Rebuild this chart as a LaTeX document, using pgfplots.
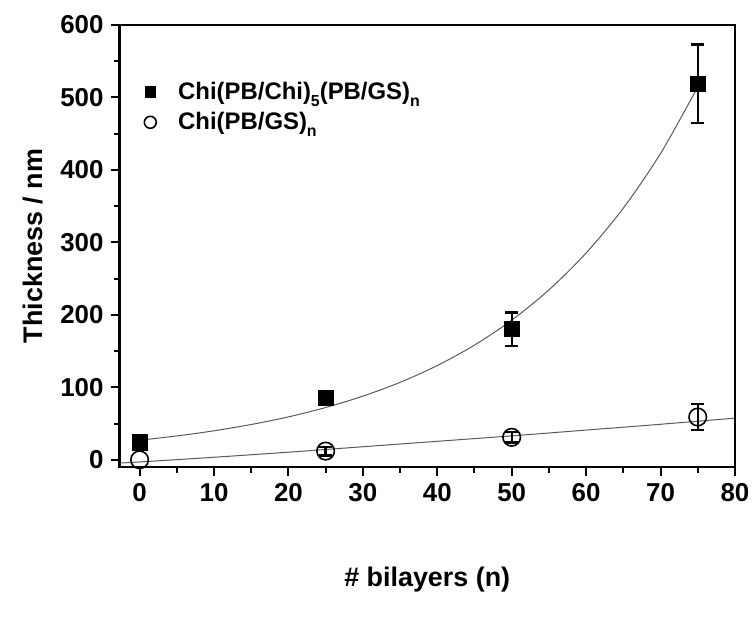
\documentclass[border=0pt]{standalone}
\usepackage{fontspec}
\setmainfont{Liberation Sans}
\usepackage{pgfplots}
\pgfplotsset{compat=1.18}
\newcommand{\sub}[1]{\raisebox{-0.55ex}{\fontsize{8}{8}\selectfont #1}}
\begin{document}
\begin{tikzpicture}
\begin{axis}[
  name=ax,
  scale only axis,
  width=309pt, height=222pt,
  xmin=-2.7, xmax=80, ymin=-10, ymax=600,
  xtick={0,10,...,80}, ytick={0,100,...,600},
  minor x tick num=1, minor y tick num=1,
  xtick pos=bottom, ytick pos=left,
  tick align=outside,
  major tick length=4.5pt, minor tick length=2.8pt,
  every tick/.style={black, line width=1pt},
  axis line style={line width=1.2pt},
  /pgf/number format/assume math mode=true,
  tick label style={font=\fontsize{13}{15}\selectfont\bfseries},
  label style={font=\fontsize{13.5}{16}\selectfont\bfseries},
  xlabel={\# bilayers (n)},
  ylabel={Thickness / nm},
  xlabel style={yshift=-26pt},
  ylabel style={yshift=2pt},
  legend style={draw=none, fill=none, at={(0.03,0.89)}, anchor=north west,
    font=\fontsize{12}{14}\selectfont\bfseries, row sep=1pt,
    legend cell align=left},
]
% fit curves
\addplot[gray!70!black, line width=0.5pt, smooth, forget plot] coordinates {
 (0,27) (5,32.9) (10,40.0) (15,48.7) (20,59.2) (25,72.1) (30,87.8) (35,106.8)
 (40,130.0) (45,158.2) (50,192.6) (55,234.4) (60,285.3) (65,347.2) (70,422.6) (75,514.3)};
\addplot[gray!70!black, line width=0.5pt, smooth, forget plot] coordinates {
 (-2.7,-4.5) (0,-3) (10,3.5) (20,10.5) (30,18) (40,25.5) (50,33) (60,41) (70,49) (80,57.5)};
% data
\addplot[only marks, mark=square*, mark size=3.8pt, black,
  legend image post style={mark size=2.7pt},
  error bars/.cd, y dir=both, y explicit,
  error bar style={line width=1.2pt},
  error mark options={rotate=90, mark size=3.2pt, line width=1.2pt}]
  coordinates {
  (0,24) +- (0,3)
  (25,85) +- (0,4)
  (50,180) +- (0,23)
  (75,519) +- (0,54)
};
\addlegendentry{\hspace*{9pt}Chi(PB/Chi)\sub{5}(PB/GS)\sub{n}}
\addplot[only marks, mark=o, mark size=4.4pt, black, mark options={fill=white, line width=0.8pt},
  legend image post style={mark size=3pt, line width=0.7pt},
  error bars/.cd, y dir=both, y explicit,
  error bar style={line width=1.2pt},
  error mark options={rotate=90, mark size=3.2pt, line width=1.2pt}]
  coordinates {
  (25,12) +- (0,6)
  (50,31) +- (0,7)
  (75,59) +- (0,18)
};
\addlegendentry{\hspace*{9pt}Chi(PB/GS)\sub{n}}
\addplot[only marks, mark=o, mark size=4.4pt, black, mark options={fill=white, line width=0.8pt}, forget plot]
  coordinates {(0,0)};
\end{axis}
\path (ax.south west) ++(-60pt,-76pt) coordinate (bl);
\path (ax.north east) ++(9pt,12.5pt) coordinate (tr);
\useasboundingbox (bl) rectangle (tr);
\end{tikzpicture}
\end{document}
